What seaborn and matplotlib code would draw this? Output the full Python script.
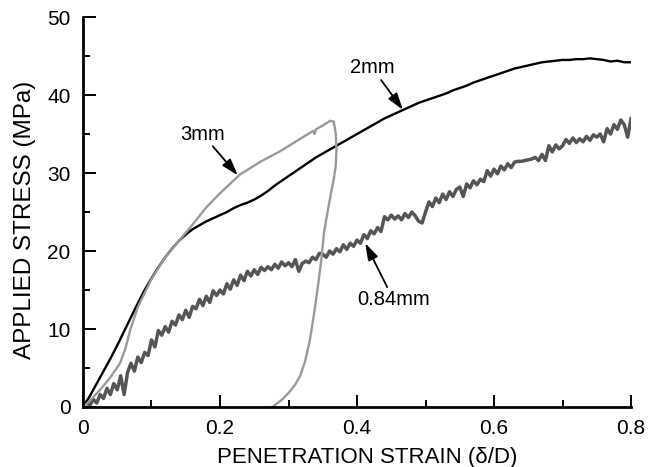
import numpy as np
import pandas as pd
import matplotlib
matplotlib.use("Agg")
import matplotlib.pyplot as plt
import seaborn as sns

# 2mm curve (black), read every 0.01 in strain
strain_2mm = np.round(np.arange(0, 0.801, 0.01), 3)
stress_2mm = [0.0, 1.4, 3.0, 4.6, 6.2, 7.9, 9.7, 11.5, 13.3, 15.0,
              16.5, 17.9, 19.2, 20.3, 21.3, 22.1, 22.8, 23.3, 23.8, 24.2,
              24.6, 25.0, 25.5, 25.9, 26.2, 26.6, 27.1, 27.7, 28.4, 29.0,
              29.6, 30.2, 30.8, 31.4, 32.0, 32.5, 33.0, 33.5, 34.0, 34.5,
              35.0, 35.5, 36.0, 36.5, 37.0, 37.4, 37.8, 38.2, 38.6, 39.0,
              39.3, 39.6, 39.9, 40.2, 40.6, 40.9, 41.2, 41.6, 41.9, 42.2,
              42.5, 42.8, 43.1, 43.4, 43.6, 43.8, 44.0, 44.2, 44.3, 44.4,
              44.5, 44.5, 44.6, 44.6, 44.7, 44.6, 44.5, 44.3, 44.4, 44.2, 44.2]

# 3mm curve (light grey), loading then unloading
strain_3mm = [0.0, 0.01, 0.025, 0.04, 0.054, 0.062, 0.069, 0.08, 0.1, 0.12, 0.14,
              0.16, 0.18, 0.2, 0.229, 0.26, 0.288, 0.31, 0.336, 0.338, 0.34, 0.35,
              0.361, 0.366, 0.369, 0.370, 0.369, 0.366, 0.362, 0.357, 0.352, 0.348,
              0.343, 0.337, 0.331, 0.324, 0.317, 0.31, 0.30, 0.29, 0.278]
stress_3mm = [0.0, 0.8, 2.2, 3.8, 5.6, 7.5, 9.9, 12.8, 16.4, 19.2, 21.3,
              23.4, 25.6, 27.4, 29.8, 31.5, 32.8, 34.0, 35.4, 35.0, 35.6, 36.1,
              36.7, 36.6, 35.0, 33.0, 31.0, 29.2, 27.4, 25.0, 22.5, 19.0,
              15.5, 11.8, 8.5, 5.8, 4.0, 2.9, 1.8, 0.9, 0.1]

# 0.84mm curve (dark grey), read every 0.005 in strain
strain_084 = np.round(np.arange(0, 0.8001, 0.005), 3)
stress_084 = [0.0, 0.6, 0.2, 1.0, 0.5, 1.6, 1.1, 2.4, 1.6, 3.0,
              2.2, 4.0, 1.6, 4.4, 5.6, 4.6, 6.4, 5.7, 7.0, 6.6,
              8.6, 7.7, 9.8, 9.2, 10.3, 9.6, 11.0, 10.5, 11.8, 11.2,
              12.4, 11.5, 12.9, 12.6, 13.8, 13.0, 14.2, 13.4, 14.9, 14.3,
              15.0, 14.5, 15.8, 15.1, 16.3, 15.6, 16.9, 16.2, 17.4, 16.8,
              17.6, 17.0, 17.9, 17.5, 18.0, 17.6, 18.3, 17.8, 18.6, 18.1,
              18.5, 18.0, 18.9, 17.4, 18.4, 18.7, 18.5, 19.2, 18.9, 19.7,
              19.6, 19.2, 20.0, 19.6, 20.3, 19.9, 20.8, 20.2, 21.0, 20.6,
              21.4, 21.0, 22.1, 21.6, 22.6, 22.2, 23.0, 22.5, 24.4, 24.0,
              24.6, 24.1, 24.5, 24.0, 24.8, 24.3, 25.0, 24.5, 23.8, 23.6,
              25.0, 26.3, 25.7, 26.8, 26.2, 27.3, 26.6, 27.6, 27.0, 27.9,
              28.2, 27.0, 28.6, 28.1, 29.0, 28.5, 29.2, 28.9, 30.3, 29.6,
              30.5, 29.9, 30.9, 30.4, 31.2, 30.7, 31.4, 31.5, 31.5, 31.6,
              31.7, 31.8, 32.0, 31.6, 32.4, 31.6, 33.5, 32.7, 33.6, 33.1,
              33.5, 34.3, 33.8, 34.5, 33.9, 34.4, 34.0, 34.7, 34.2, 34.9,
              34.6, 35.0, 34.0, 35.7, 35.0, 36.2, 35.6, 36.8, 36.2, 34.6,
              37.0]

plt.rcParams['font.family'] = ['Liberation Sans', 'DejaVu Sans']

fig = plt.figure(figsize=(6.56, 4.67), dpi=100)
ax = fig.add_axes([0.1265, 0.1285, 0.8355, 0.835])

sns.lineplot(x=strain_084, y=stress_084, color='#555555', lw=2.5, ax=ax)
sns.lineplot(x=strain_2mm, y=stress_2mm, color='black', lw=1.7, ax=ax)
sns.lineplot(x=strain_3mm, y=stress_3mm, color='#9a9a9a', lw=1.7, sort=False, estimator=None, ax=ax)

ax.set_xlim(0, 0.8)
ax.set_ylim(0, 50)
ax.set_xticks([0, 0.2, 0.4, 0.6, 0.8])
ax.set_xticklabels(['0', '0.2', '0.4', '0.6', '0.8'])
ax.set_yticks([0, 10, 20, 30, 40, 50])
ax.set_xticks([0.1, 0.3, 0.5, 0.7], minor=True)
ax.set_yticks([5, 15, 25, 35, 45], minor=True)
ax.tick_params(which='major', direction='in', length=9, width=1.4, labelsize=15, color='black')
ax.tick_params(which='minor', direction='in', length=5, width=1.4, color='black')
ax.tick_params(axis='y', pad=9)
ax.tick_params(axis='x', pad=9)

for side in ['top', 'right']:
    ax.spines[side].set_visible(False)
for side in ['left', 'bottom']:
    ax.spines[side].set_linewidth(2)
    ax.spines[side].set_color('black')

ax.set_xlabel('PENETRATION STRAIN (δ/D)', fontsize=16)
ax.set_ylabel('APPLIED STRESS (MPa)', fontsize=17.5)
ax.xaxis.set_label_coords(0.518, -0.103)
ax.yaxis.set_label_coords(-0.086, 0.479)

arrow = dict(arrowstyle='-|>,head_length=0.7,head_width=0.22', color='black', lw=1.3,
             shrinkA=0, shrinkB=0)
ax.annotate('2mm', xy=(0.467, 38.1), xytext=(0.422, 43.5), fontsize=14.5,
            ha='center', va='center', arrowprops=arrow)
ax.annotate('3mm', xy=(0.226, 29.7), xytext=(0.174, 35.0), fontsize=14.5,
            ha='center', va='center', arrowprops=arrow)
ax.annotate('0.84mm', xy=(0.412, 21.0), xytext=(0.453, 13.8), fontsize=14.5,
            ha='center', va='center', arrowprops=arrow)

fig.savefig('out.png', dpi=100)
